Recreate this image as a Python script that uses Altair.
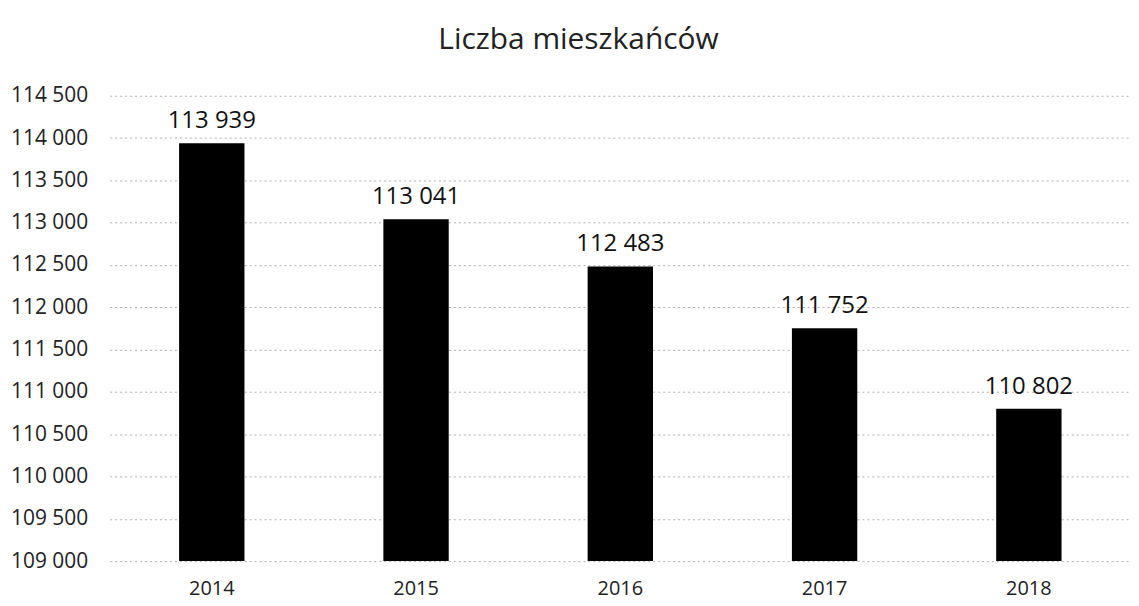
import altair as alt
import pandas as pd

years = ["2014", "2015", "2016", "2017", "2018"]
values = [113939, 113041, 112483, 111752, 110802]
labels = ["113 939", "113 041", "112 483", "111 752", "110 802"]
y_ticks = list(range(109000, 114501, 500))

df = pd.DataFrame({"rok": years, "liczba": values, "etykieta": labels})

FONT = "Open Sans"

base = alt.Chart(df).encode(
    x=alt.X("rok:N", sort=years, title=None,
            scale=alt.Scale(paddingInner=0.68, paddingOuter=0.34),
            axis=alt.Axis(labelAngle=0, domain=False, ticks=False, grid=False,
                          labelPadding=18, labelFontSize=20, labelFont=FONT,
                          labelColor="#222")),
)

bars = base.mark_bar(color="#000000").encode(
    y=alt.Y("liczba:Q", title=None,
            scale=alt.Scale(domain=[109000, 114500], zero=False, nice=False),
            axis=alt.Axis(values=y_ticks, domain=False, ticks=False,
                          labelExpr="replace(format(datum.value, ',d'), ',', ' ')",
                          labelPadding=22, labelFontSize=21, labelFont=FONT,
                          labelColor="#222",
                          grid=True, gridDash=[2, 3], gridColor="#b0b0b0",
                          gridWidth=1)),
    y2=alt.datum(109000),
)

text = base.mark_text(baseline="bottom", dy=-10, fontSize=24, font=FONT,
                      color="#111").encode(
    y=alt.Y("liczba:Q"),
    text="etykieta:N",
)

chart = (bars + text).properties(
    width=1025,
    height=467,
    title=alt.TitleParams("Liczba mieszkańców", fontSize=30, font=FONT,
                          fontWeight="normal", color="#222", offset=30,
                          anchor="middle", dx=-42),
    autosize=alt.AutoSizeParams(type="none"),
    padding={"left": 102, "top": 87, "right": 0, "bottom": 50},
).configure_view(stroke=None)

chart.save("out.html", embed_options={"renderer": "svg", "actions": False})
